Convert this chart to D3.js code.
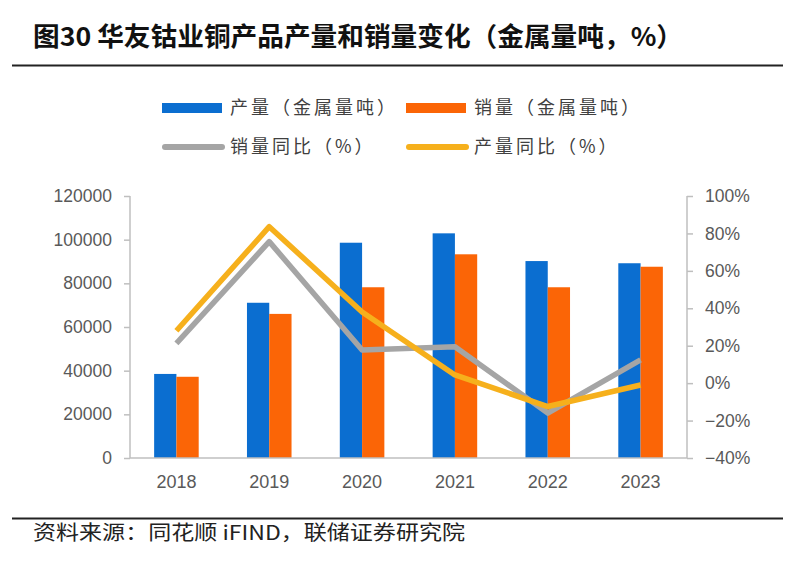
<!DOCTYPE html>
<html><head><meta charset="utf-8">
<script src="https://cdn.jsdelivr.net/npm/d3@7"></script>
<style>
html,body{margin:0;padding:0;background:#fff;}
svg{display:block;}
</style></head>
<body>
<svg id="chart" width="800" height="577"></svg>
<script>
const years = ["2018","2019","2020","2021","2022","2023"];
const production = [38500, 71100, 98600, 102900, 90200, 89200];
const sales = [37200, 66000, 78200, 93300, 78200, 87600];
const salesYoY = [21.3, 75.6, 17.7, 19.5, -16.0, 12.4];
const productionYoY = [28.0, 83.6, 38.0, 4.4, -12.5, -1.0];
const leftTicks = [0, 20000, 40000, 60000, 80000, 100000, 120000];
const rightTicks = [-40, -20, 0, 20, 40, 60, 80, 100];
const seriesNames = ["产量（金属量吨）", "销量（金属量吨）", "销量同比（%）", "产量同比（%）"];
const colors = {blue:"#0B6ED0", orange:"#FB6506", gray:"#A5A5A5", yellow:"#F6B01C"};

const svg = d3.select("#chart");
const cjk = "'Noto Sans CJK SC','Noto Sans',sans-serif";
const num = "'Liberation Sans',Arial,sans-serif";

// title
svg.append("text").attr("x", 33).attr("y", 46)
  .attr("font-family", cjk).attr("font-weight", 700).attr("font-size", 26)
  .attr("fill", "#111")
  .text("图30 华友钴业铜产品产量和销量变化（金属量吨，%）")
  .attr("textLength", 650).attr("lengthAdjust", "spacingAndGlyphs");
svg.append("line").attr("x1", 12).attr("x2", 783).attr("y1", 65.5).attr("y2", 65.5)
  .attr("stroke", "#222").attr("stroke-width", 2);

// footer
svg.append("line").attr("x1", 12).attr("x2", 783).attr("y1", 518.5).attr("y2", 518.5)
  .attr("stroke", "#222").attr("stroke-width", 2);
svg.append("text").attr("x", 33).attr("y", 540)
  .attr("font-family", cjk).attr("font-size", 20).attr("fill", "#222")
  .text("资料来源：同花顺 iFIND，联储证券研究院")
  .attr("textLength", 432).attr("lengthAdjust", "spacingAndGlyphs");

// scales
const x0 = d3.scaleBand().domain(years).range([130, 687]).paddingInner(0.52).paddingOuter(0.26);
const x1 = d3.scaleBand().domain(["p","s"]).range([0, x0.bandwidth()]);
const yL = d3.scaleLinear().domain([0, 120000]).range([458, 196]);
const yR = d3.scaleLinear().domain([-40, 100]).range([458, 196]);
const xc = d => x0(d) + x0.bandwidth()/2;

// bars
const g = svg.append("g");
years.forEach((yr, i) => {
  g.append("rect").attr("x", x0(yr) + x1("p")).attr("width", x1.bandwidth())
    .attr("y", yL(production[i])).attr("height", yL(0) - yL(production[i])).attr("fill", colors.blue);
  g.append("rect").attr("x", x0(yr) + x1("s")).attr("width", x1.bandwidth())
    .attr("y", yL(sales[i])).attr("height", yL(0) - yL(sales[i])).attr("fill", colors.orange);
});

// axes
const axisColor = "#BFBFBF", textColor = "#595959";
const gl = svg.append("g").attr("transform", "translate(130,0)")
  .call(d3.axisLeft(yL).tickValues(leftTicks).tickFormat(d3.format("d")).tickSize(6).tickPadding(12));
const gr = svg.append("g").attr("transform", "translate(687,0)")
  .call(d3.axisRight(yR).tickValues(rightTicks).tickFormat(d => d + "%").tickSize(6).tickPadding(12));
const gb = svg.append("g").attr("transform", "translate(0,458)")
  .call(d3.axisBottom(x0).tickSize(0).tickPadding(17));
[gl, gr, gb].forEach(a => {
  a.selectAll("path,line").attr("stroke", axisColor).attr("stroke-width", 1.5);
  a.selectAll("text").attr("fill", textColor).attr("font-family", num).attr("font-size", 17.5);
});
gr.selectAll("text").text(d => (d < 0 ? "\u2212" + Math.abs(d) : d) + "%");
gb.selectAll("text").attr("font-size", 18);
gl.select(".domain").attr("d", "M0,196V458");
gr.select(".domain").attr("d", "M0,196V458");
gb.select(".domain").attr("d", "M130,0H687");

// lines
const line = d3.line().x((d, i) => xc(years[i])).y(d => yR(d));
svg.append("path").datum(salesYoY).attr("d", line).attr("fill", "none")
  .attr("stroke", colors.gray).attr("stroke-width", 5.5).attr("stroke-linejoin", "round");
svg.append("path").datum(productionYoY).attr("d", line).attr("fill", "none")
  .attr("stroke", colors.yellow).attr("stroke-width", 5.5).attr("stroke-linejoin", "round");

// legend
const leg = svg.append("g").attr("font-family", cjk).attr("font-size", 18).attr("fill", "#404040");
const legItems = [
  {name: seriesNames[0], type: "rect", c: colors.blue, x: 162, y: 108},
  {name: seriesNames[1], type: "rect", c: colors.orange, x: 406, y: 108},
  {name: seriesNames[2], type: "line", c: colors.gray, x: 162, y: 147},
  {name: seriesNames[3], type: "line", c: colors.yellow, x: 406, y: 147}
];
legItems.forEach(it => {
  if (it.type === "rect") {
    leg.append("rect").attr("x", it.x).attr("y", it.y - 5).attr("width", 60).attr("height", 10).attr("fill", it.c);
  } else {
    leg.append("line").attr("x1", it.x + 3).attr("x2", it.x + 60).attr("y1", it.y).attr("y2", it.y)
      .attr("stroke", it.c).attr("stroke-width", 6).attr("stroke-linecap", "round");
  }
  leg.append("text").attr("x", it.x + 68).attr("y", it.y).attr("dy", "0.35em")
    .attr("letter-spacing", 3).text(it.name);
});
</script>
</body></html>
